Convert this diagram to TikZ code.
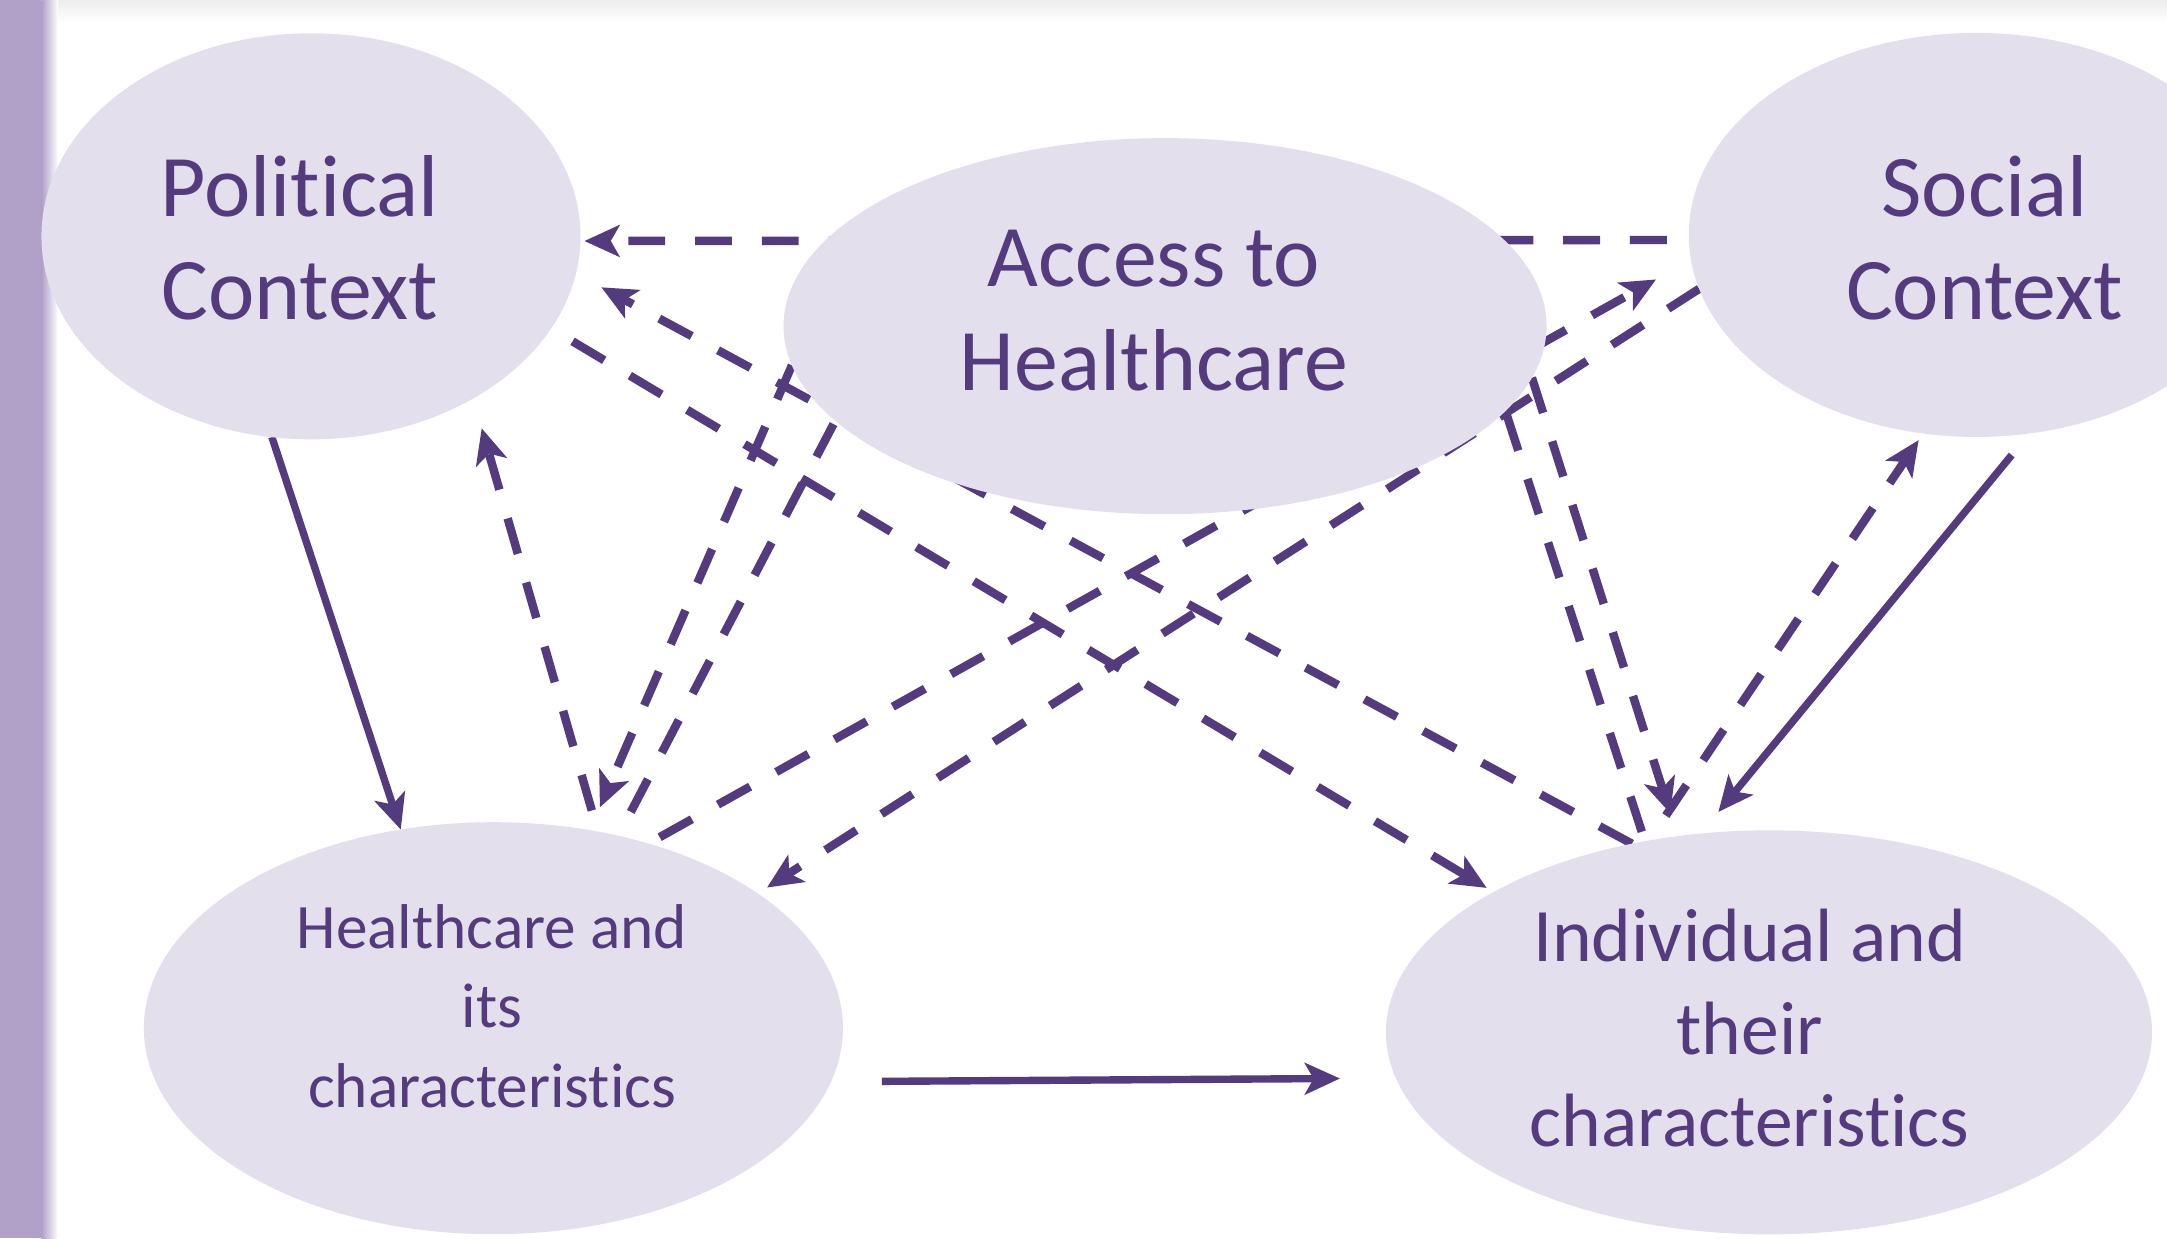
\documentclass[tikz,border=0pt]{standalone}
\usepackage{fontspec}
\setmainfont{Carlito}[Ligatures=NoCommon]
\usetikzlibrary{shapes.geometric, arrows.meta, backgrounds}

\definecolor{txtpurple}{RGB}{84,59,126}
\definecolor{ovalfill}{RGB}{228,223,236}
\definecolor{barpurple}{RGB}{177,160,199}

\begin{document}
\begin{tikzpicture}[
        x=0.1382mm, y=-0.1382mm,
        oval/.style={ellipse, fill=ovalfill, inner sep=0pt, outer sep=0pt},
        ovaltext/.style={text=txtpurple, align=center},
        arrow/.style={draw=txtpurple, line width=2.1pt, -{Stealth[length=10pt, width=9pt, inset=2.5pt]}},
        dasharrow/.style={arrow, line width=2.4pt, dash pattern=on 10.5pt off 8.5pt},
        dashline/.style={draw=txtpurple, line width=2.4pt, dash pattern=on 10.5pt off 8.5pt}
    ]
    \useasboundingbox (0,0) rectangle (1568,896);

    % Ovals
    \node[oval, minimum width=5.39cm, minimum height=4.06cm] (pol) at (225,171) {};
    \node[oval, minimum width=7.63cm, minimum height=3.76cm] (acc) at (843,236) {};
    \node[oval, minimum width=5.75cm, minimum height=4.04cm] (soc) at (1430,170) {};
    \node[oval, minimum width=6.99cm, minimum height=4.12cm] (hc) at (357,744) {};
    \node[oval, minimum width=7.66cm, minimum height=4.04cm] (ind) at (1280,747) {};

    % Texts
    \node[ovaltext, font=\fontsize{25}{29.5}\selectfont] (poltxt) at (217,172) {Political\\Context};
    \node[ovaltext, font=\fontsize{25}{29.5}\selectfont] (acctxt) at (835,225) {Access to\\Healthcare};
    \node[ovaltext, font=\fontsize{25}{29.5}\selectfont] (soctxt) at (1436,172) {Social\\Context};
    \node[ovaltext, font=\fontsize{18}{22.6}\selectfont] (hctxt) at (356,728) {Healthcare and\\its\\characteristics};
    \node[ovaltext, font=\fontsize{21.5}{26.3}\selectfont] (indtxt) at (1266,744) {Individual and\\their\\characteristics};

    \begin{scope}[on background layer]
        % Page and side bar
        \fill[white] (0,0) rectangle (1568,896);
        \fill[barpurple] (0,0) rectangle (30,896);
        \shade[left color=barpurple, right color=white] (30,0) rectangle (42,896);
        \shade[top color=black!7, bottom color=white] (42,0) rectangle (1568,16);

        % Solid arrows
        \draw[arrow] (pol.-101.5) -- (hc.115.8);
        \draw[arrow, shorten <=0.51cm, shorten >=0.56cm] (hc.-9) -- (ind.187.4);
        \draw[arrow, shorten <=0.28cm, shorten >=0.28cm] (soc.-75.2) -- (ind.109.4);

        % Dashed arrows
        \draw[dasharrow, shorten <=0.22cm, shorten >=0.04cm] (soc.181) -- (pol.-1);
        \draw[dasharrow, shorten <=0.25cm, shorten >=0.08cm] (pol.-21.4) -- (ind.153.1);
        \draw[dasharrow, shorten >=0.29cm] (ind.126.9) -- (pol.-8.7);
        \draw[dasharrow, shorten <=0.13cm, shorten >=0.40cm] (hc.50.6) -- (soc.185.3);
        \draw[dasharrow, shorten >=0.11cm] (soc.191.9) -- (hc.27.6);
        \draw[dasharrow, shorten <=0.22cm, shorten >=0.31cm] (hc.62.5) -- (pol.-45.6);
        \draw[dasharrow, shorten >=0.25cm] (acc.186.4) -- (hc.64);
        \draw[dashline, shorten <=0.27cm] (hc.57.1) -- (acc.196.2);
        \draw[dasharrow, shorten >=0.24cm] (acc.-8.3) -- (ind.115.4);
        \draw[dashline, shorten <=0.1cm] (ind.123) -- (acc.-14);
        \draw[dasharrow, shorten <=0.3cm, shorten >=0.08cm] (ind.122.9) -- (soc.-105.2);
    \end{scope}
\end{tikzpicture}
\end{document}
